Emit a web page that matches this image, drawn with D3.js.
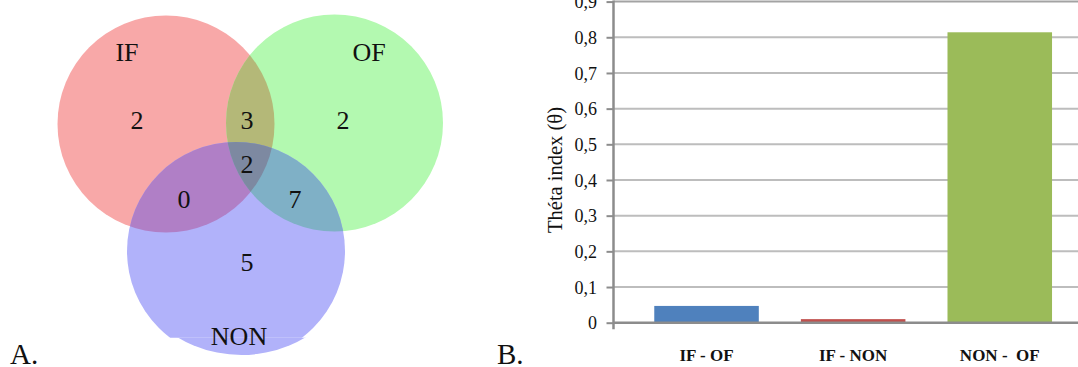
<!DOCTYPE html>
<html>
<head>
<meta charset="utf-8">
<script src="https://cdn.jsdelivr.net/npm/d3@7/dist/d3.min.js"></script>
<style>
  body { margin: 0; background: #fff; }
  svg { display: block; }
  svg text { font-family: "Liberation Serif", "Times New Roman", serif; fill: #111; }
</style>
</head>
<body>
<svg id="chart" width="1078" height="367"></svg>
<script>
// ---- Panel A: three-set Venn diagram ----
const setNames = ["IF", "OF", "NON"];
const regionKeys = ["IF", "OF", "NON", "IF&OF", "IF&NON", "OF&NON", "IF&OF&NON"];
const regionCounts = [2, 2, 5, 3, 0, 7, 2];

// ---- Panel B: theta index per pair of groups ----
const pairs = ["IF - OF", "IF - NON", "NON -  OF"];
const theta = [0.047, 0.010, 0.814];
const yTicks = [0, 0.1, 0.2, 0.3, 0.4, 0.5, 0.6, 0.7, 0.8, 0.9];

const svg = d3.select("#chart");
const defs = svg.append("defs");

// circle geometry and label anchors for the Venn panel
const circleGeom = {
  IF:  { cx: 166,   cy: 124, r: 108.5 },
  OF:  { cx: 334.5, cy: 123, r: 108.5 },
  NON: { cx: 236,   cy: 251, r: 109 }
};
const setFill = { IF: "#f8a8a8", OF: "#b3f9b0", NON: "#b1b2fa" };
const regionFill = {
  "IF&OF": "#b4b878",
  "IF&NON": "#b07fc6",
  "OF&NON": "#7fb0c6",
  "IF&OF&NON": "#7d89a1"
};
const setLabelPos = { IF: [127, 61], OF: [369, 61], NON: [239, 345] };
const regionLabelPos = {
  "IF": [137, 129], "OF": [343, 129], "NON": [247, 271],
  "IF&OF": [247, 129], "IF&NON": [184, 208], "OF&NON": [295, 208],
  "IF&OF&NON": [247, 173]
};

const venn = svg.append("g");

// clip paths, one per set, to carve out the overlap regions
setNames.forEach(n => {
  const g = circleGeom[n];
  defs.append("clipPath").attr("id", "clip-" + n)
    .append("circle").attr("cx", g.cx).attr("cy", g.cy).attr("r", g.r);
});
defs.append("clipPath").attr("id", "clip-top")
  .append("rect").attr("x", 0).attr("y", 0).attr("width", 480).attr("height", 337.7);
defs.append("clipPath").attr("id", "clip-bottom")
  .append("rect").attr("x", 0).attr("y", 337.7).attr("width", 480).attr("height", 40);

// single-set discs
setNames.forEach(n => {
  const g = circleGeom[n];
  venn.append("circle")
    .attr("cx", g.cx).attr("cy", g.cy).attr("r", g.r)
    .attr("fill", setFill[n])
    .attr("clip-path", n === "NON" ? "url(#clip-top)" : null);
});
// the lower cap of the NON disc
venn.append("circle")
  .attr("cx", 241.5).attr("cy", 230).attr("r", 125)
  .attr("fill", setFill.NON)
  .attr("clip-path", "url(#clip-bottom)");

// pairwise overlaps
function overlap(key, a, b) {
  const g = circleGeom[b];
  venn.append("g").attr("clip-path", `url(#clip-${a})`)
    .append("circle")
    .attr("cx", g.cx).attr("cy", g.cy).attr("r", g.r)
    .attr("fill", regionFill[key]);
}
overlap("IF&OF", "IF", "OF");
overlap("IF&NON", "IF", "NON");
overlap("OF&NON", "OF", "NON");
// triple overlap
{
  const g = circleGeom.NON;
  venn.append("g").attr("clip-path", "url(#clip-IF)")
    .append("g").attr("clip-path", "url(#clip-OF)")
    .append("circle")
    .attr("cx", g.cx).attr("cy", g.cy).attr("r", g.r)
    .attr("fill", regionFill["IF&OF&NON"]);
}

// region counts
venn.selectAll("text.count")
  .data(regionKeys.map((k, i) => ({ k, v: regionCounts[i] })))
  .join("text")
  .attr("class", "count")
  .attr("x", d => regionLabelPos[d.k][0])
  .attr("y", d => regionLabelPos[d.k][1])
  .attr("text-anchor", "middle")
  .style("font-size", "26px")
  .text(d => d.v);

// set names
venn.selectAll("text.set")
  .data(setNames)
  .join("text")
  .attr("class", "set")
  .attr("x", d => setLabelPos[d][0])
  .attr("y", d => setLabelPos[d][1])
  .attr("text-anchor", "middle")
  .style("font-size", "26px")
  .text(d => d);

// ---- bar chart ----
const x = d3.scaleBand()
  .domain(pairs)
  .range([633.3, 1073])
  .paddingInner(0.287)
  .paddingOuter(0.143);
const y = d3.scaleLinear().domain([0, 0.9]).range([322.7, 1.6]);
const axisX = 613.5;
const barColors = ["#4f81bd", "#c0504d", "#9bbb59"];
const fmt = v => v === 0 ? "0" : d3.format(".1f")(v).replace(".", ",");

const chart = svg.append("g");

// horizontal gridlines
chart.selectAll("line.grid")
  .data(yTicks.filter(t => t > 0))
  .join("line")
  .attr("class", "grid")
  .attr("x1", axisX).attr("x2", 1078)
  .attr("y1", d => y(d)).attr("y2", d => y(d))
  .attr("stroke", d => d === 0.9 ? "#a3a3a3" : "#bdbdbd")
  .attr("stroke-width", 2);

// bars
chart.selectAll("rect.bar")
  .data(pairs.map((p, i) => ({ p, v: theta[i], c: barColors[i] })))
  .join("rect")
  .attr("class", "bar")
  .attr("x", d => x(d.p))
  .attr("width", x.bandwidth())
  .attr("y", d => y(d.v))
  .attr("height", d => y(0) - y(d.v))
  .attr("fill", d => d.c);

// baseline
chart.append("line")
  .attr("x1", axisX).attr("x2", 1078)
  .attr("y1", y(0)).attr("y2", y(0))
  .attr("stroke", "#8c8c8c").attr("stroke-width", 2.5);

// value axis
const yAxis = chart.append("g")
  .attr("transform", `translate(${axisX},0)`)
  .call(d3.axisLeft(y).tickValues(yTicks).tickFormat(fmt).tickSize(7).tickSizeOuter(0).tickPadding(9.5));
yAxis.select(".domain").remove();
yAxis.selectAll(".tick line").attr("stroke", "#8c8c8c").attr("stroke-width", 2);
yAxis.selectAll(".tick text")
  .style("font-size", "18px")
  .attr("dy", "0.34em");
chart.append("line")
  .attr("x1", axisX).attr("x2", axisX)
  .attr("y1", y(0.9) - 1).attr("y2", y(0) + 6.5)
  .attr("stroke", "#8c8c8c").attr("stroke-width", 2.5);

// axis title
chart.append("text")
  .attr("transform", "translate(562,170) rotate(-90)")
  .attr("text-anchor", "middle")
  .style("font-size", "20.5px")
  .text("Théta index (θ)");

// category labels
chart.selectAll("text.cat")
  .data(pairs)
  .join("text")
  .attr("class", "cat")
  .attr("x", d => x(d) + x.bandwidth() / 2)
  .attr("y", 361)
  .attr("text-anchor", "middle")
  .style("font-size", "17px")
  .style("font-weight", "bold")
  .style("white-space", "pre")
  .text(d => d);

// panel letters
svg.append("text").attr("x", 10).attr("y", 364).style("font-size", "29px").text("A.");
svg.append("text").attr("x", 497).attr("y", 364).style("font-size", "29px").text("B.");
</script>
</body>
</html>
